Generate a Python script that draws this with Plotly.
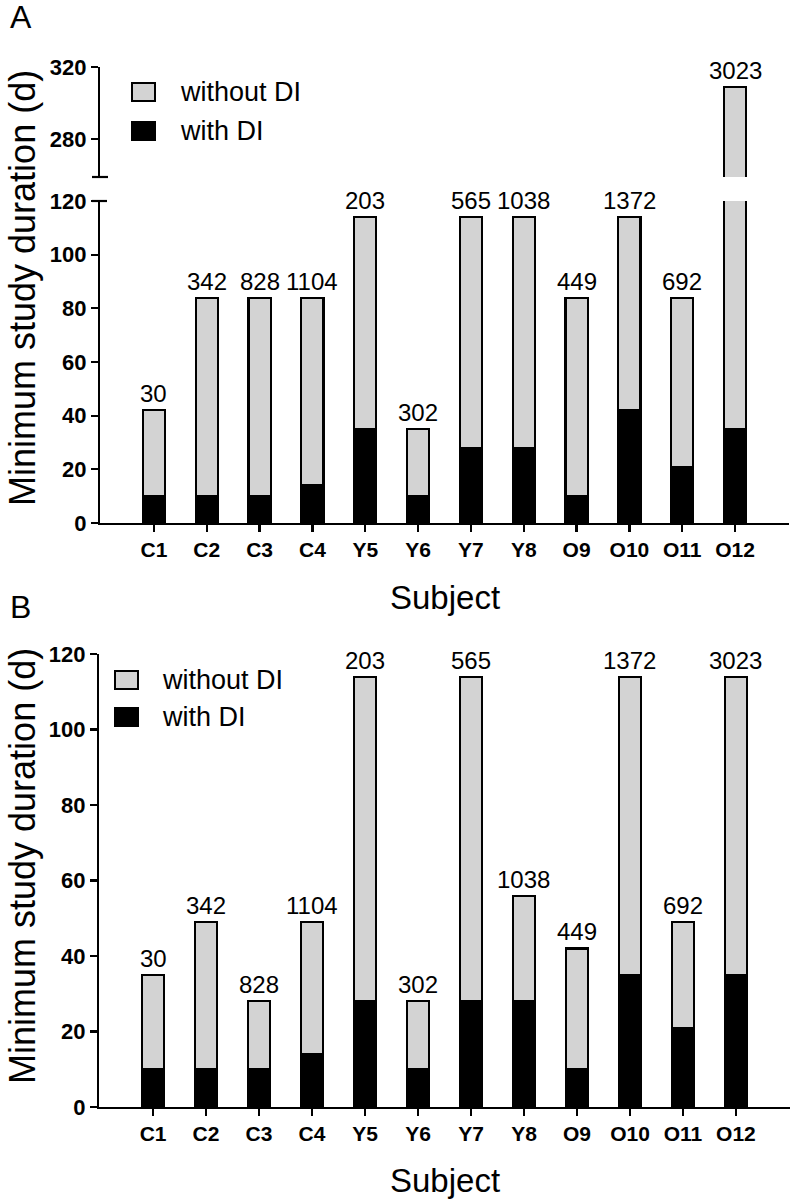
import plotly.graph_objects as go

# ---------------- data ----------------
subjects = ["C1", "C2", "C3", "C4", "Y5", "Y6", "Y7", "Y8", "O9", "O10", "O11", "O12"]
labels = ["30", "342", "828", "1104", "203", "302", "565", "1038", "449", "1372", "692", "3023"]

# Panel A: total minimum study duration and portion with DI
a_total = [42, 84, 84, 84, 114, 35, 114, 114, 84, 114, 84, 309]
a_with = [10, 10, 10, 14, 35, 10, 28, 28, 10, 42, 21, 35]

# Panel B
b_total = [35, 49, 28, 49, 114, 28, 114, 56, 42, 114, 49, 114]
b_with = [10, 10, 10, 14, 28, 10, 28, 28, 10, 35, 21, 35]

a_without = [t - w for t, w in zip(a_total, a_with)]
b_without = [t - w for t, w in zip(b_total, b_with)]

BREAK_LOW = 120
GRAY = "#d3d3d3"
FONT = "Liberation Sans, Arial, sans-serif"
W, H = 794, 1204

fig = go.Figure()

def add_bars(xa, ya, with_vals, without_vals):
    fig.add_trace(go.Bar(x=subjects, y=with_vals, xaxis=xa, yaxis=ya, width=0.42,
                         marker=dict(color="black", line=dict(color="black", width=2.2)),
                         showlegend=False, hoverinfo="skip"))
    fig.add_trace(go.Bar(x=subjects, y=without_vals, xaxis=xa, yaxis=ya, width=0.42,
                         marker=dict(color=GRAY, line=dict(color="black", width=2.2)),
                         showlegend=False, hoverinfo="skip"))

# Panel A lower and upper (broken axis)
add_bars("x", "y", a_with, a_without)
add_bars("x", "y3", a_with, a_without)
# Panel B
add_bars("x2", "y2", b_with, b_without)

tickfont = dict(family=FONT, size=22, color="black", weight="bold")
xtickfont = dict(family=FONT, size=21, color="black", weight="bold")
common_x = dict(type="category", range=[-1.02, 12.02], showline=True, linecolor="black", linewidth=2.2,
                ticks="outside", ticklen=7, tickwidth=2.2, tickcolor="black", tickfont=xtickfont,
                showgrid=False, zeroline=False, fixedrange=True, automargin=False)
common_y = dict(showline=True, linecolor="black", linewidth=2.2, ticks="outside", ticklen=7,
                tickwidth=2.2, tickcolor="black", tickfont=tickfont, showgrid=False, zeroline=False,
                automargin=False, fixedrange=True)

fig.update_layout(
    width=W, height=H, autosize=False,
    margin=dict(l=0, r=0, t=0, b=0, pad=0, autoexpand=False),
    paper_bgcolor="white", plot_bgcolor="white", barmode="stack", bargap=0,
    xaxis=dict(domain=[100 / W, 789 / W], anchor="y", **common_x),
    yaxis=dict(domain=[1 - 523 / H, 1 - 201 / H], range=[0, 120], dtick=20, anchor="x", **common_y),
    yaxis3=dict(domain=[1 - 177 / H, 1 - 67 / H], range=[259.2, 320], tickvals=[280, 320], anchor="x", **common_y),
    xaxis2=dict(domain=[99 / W, 790 / W], anchor="y2", **common_x),
    yaxis2=dict(domain=[1 - 1107 / H, 1 - 654 / H], range=[0, 120], dtick=20, anchor="x2", **common_y),
    showlegend=False,
)

ann = []
# value labels from the data
txtfont = dict(family=FONT, size=24, color="black")
for s, t, lab in zip(subjects, a_total, labels):
    ann.append(dict(text=lab, x=s, y=t, xref="x", yref=("y3" if t > BREAK_LOW else "y"),
                    showarrow=False, font=txtfont, xanchor="center", yanchor="bottom", yshift=1))
for s, t, lab in zip(subjects, b_total, labels):
    ann.append(dict(text=lab, x=s, y=t, xref="x2", yref="y2",
                    showarrow=False, font=txtfont, xanchor="center", yanchor="bottom", yshift=1))

title_font = dict(family=FONT, size=36, color="black")
ann.append(dict(text="Minimum study duration (d)", x=22 / W, y=1 - 288 / H, xref="paper", yref="paper",
                textangle=-90, showarrow=False, font=title_font, xanchor="center", yanchor="middle"))
ann.append(dict(text="Minimum study duration (d)", x=22 / W, y=1 - 866 / H, xref="paper", yref="paper",
                textangle=-90, showarrow=False, font=title_font, xanchor="center", yanchor="middle"))
sub_font = dict(family=FONT, size=33, color="black")
ann.append(dict(text="Subject", x=(100 + 789) / 2 / W, y=1 - 597 / H, xref="paper", yref="paper",
                showarrow=False, font=sub_font, xanchor="center", yanchor="middle"))
ann.append(dict(text="Subject", x=(99 + 790) / 2 / W, y=1 - 1180 / H, xref="paper", yref="paper",
                showarrow=False, font=sub_font, xanchor="center", yanchor="middle"))
panel_font = dict(family=FONT, size=32, color="black")
ann.append(dict(text="A", x=8 / W, y=1 - 17 / H, xref="paper", yref="paper", showarrow=False,
                font=panel_font, xanchor="left", yanchor="middle"))
ann.append(dict(text="B", x=8 / W, y=1 - 607 / H, xref="paper", yref="paper", showarrow=False,
                font=panel_font, xanchor="left", yanchor="middle"))

# legends (drawn manually)
leg_font = dict(family=FONT, size=27, color="black")
shapes = []
def legend(x0, y_rows, text_x):
    for (yc, fill, name) in zip(y_rows, [GRAY, "black"], ["without DI", "with DI"]):
        shapes.append(dict(type="rect", xref="paper", yref="paper",
                           x0=x0 / W, x1=(x0 + 23) / W, y0=1 - (yc + 9) / H, y1=1 - (yc - 9) / H,
                           fillcolor=fill, line=dict(color="black", width=2)))
        ann.append(dict(text=name, x=text_x / W, y=1 - yc / H, xref="paper", yref="paper",
                        showarrow=False, font=leg_font, xanchor="left", yanchor="middle"))
legend(132, [92, 131], 178)
legend(115, [680, 717], 160)

# axis break caps
shapes.append(dict(type="line", xref="paper", yref="paper", x0=92 / W, x1=107 / W,
                   y0=1 - 201 / H, y1=1 - 201 / H, line=dict(color="black", width=2.2)))
shapes.append(dict(type="line", xref="paper", yref="paper", x0=92 / W, x1=108 / W,
                   y0=1 - 177 / H, y1=1 - 177 / H, line=dict(color="black", width=2.2)))

fig.update_layout(annotations=ann, shapes=shapes)
fig.write_html("out.html", config={"displayModeBar": False, "staticPlot": True},
               post_script="document.body.style.margin='0';document.body.style.overflow='hidden';")
